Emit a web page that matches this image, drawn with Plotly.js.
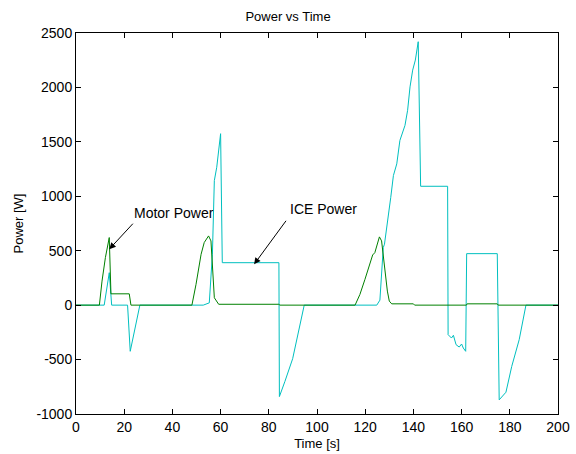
<!DOCTYPE html>
<html>
<head>
<meta charset="utf-8">
<script src="https://cdn.plot.ly/plotly-3.0.1.min.js"></script>
<style>html,body{margin:0;padding:0;background:#fff}#chart{width:576px;height:454px}</style>
</head>
<body>
<div id="chart"></div>
<script>
// ICE power (cyan)
var iceTime = [0, 11.7, 13.8, 14.8, 21.4, 22.5, 26.5, 52.8, 55.3, 56.6, 57.4, 58.4, 60.0, 60.7, 84.2, 84.4, 86.7, 89.9, 94.7,
  124.8, 126.1, 127.5, 128, 129.6, 130.6, 131.7, 133.1, 134.4, 136.5, 137.6, 138.6, 139.7, 140.8, 142, 143,
  154.2, 154.4, 155.8, 156.6, 157.7, 159, 160, 160.7, 161.7, 162.1, 174.8, 175.6, 178.4, 180.8, 183.9, 186.7, 200];
var icePower = [0, 0, 298, 0, 0, -424, 0, 0, 21, 468, 1144, 1267, 1575, 390, 390, -840, -700, -492, 0,
  0, 46, 529, 560, 806, 990, 1190, 1298, 1513, 1651, 1790, 2005, 2159, 2251, 2420, 1092,
  1092, -271, -302, -277, -363, -385, -357, -394, -424, 473, 473, -870, -800, -563, -317, 0, 0];

// Motor power (green)
var motorTime = [0, 9.7, 10.8, 12.2, 13.8, 14.5, 22.1, 22.8, 48.1, 49.8, 51.9, 53.2, 55.0, 56.0, 57.4, 59.2, 84.2, 84.6,
  115.8, 117.8, 119.9, 122, 123.1, 124, 125, 125.9, 126.8, 127.5, 128.2, 129.2, 130, 131, 140, 140.5, 162, 162.3, 174.8, 175.2, 200];
var motorPower = [0, 0, 221, 437, 621, 104, 104, 0, 0, 191, 467, 575, 636, 590, 68, 8, 8, 0,
  0, 98, 237, 375, 461, 482, 560, 627, 590, 437, 314, 129, 37, 12, 12, 0, 0, 12, 12, 0, 0];

var xTicks = [0, 20, 40, 60, 80, 100, 120, 140, 160, 180, 200];
var yTicks = [-1000, -500, 0, 500, 1000, 1500, 2000, 2500];

var font = {family: 'Liberation Sans, Arial, sans-serif', size: 13, color: '#000'};
var bigFont = {family: 'Liberation Sans, Arial, sans-serif', size: 14, color: '#000'};

var traces = [
  {x: iceTime, y: icePower, mode: 'lines', name: 'ICE Power', line: {color: 'rgb(0,191,191)', width: 1}},
  {x: motorTime, y: motorPower, mode: 'lines', name: 'Motor Power', line: {color: 'rgb(0,128,0)', width: 1}}
];

var axisCommon = {
  showgrid: false, zeroline: false, showline: true, linecolor: '#000', linewidth: 1,
  mirror: 'allticks', ticks: 'inside', ticklen: 5, tickcolor: '#000', tickfont: bigFont
};

var layout = {
  width: 576, height: 454,
  margin: {l: 76, r: 18, t: 33, b: 40},
  paper_bgcolor: '#fff', plot_bgcolor: '#fff',
  showlegend: false,
  font: font,
  title: {text: 'Power vs Time', font: font, x: 0.5, xanchor: 'center', y: 1 - 16/454, yanchor: 'middle'},
  xaxis: Object.assign({}, axisCommon, {range: [0, 200], tickvals: xTicks, ticktext: xTicks.map(String),
    title: {text: 'Time [s]', font: font, standoff: 5}}),
  yaxis: Object.assign({}, axisCommon, {range: [-1000, 2500], tickvals: yTicks, ticktext: yTicks.map(String),
    title: {text: 'Power [W]', font: font, standoff: 9}}),
  annotations: [
    {x: 13.8, y: 514, xref: 'x', yref: 'y', text: '', showarrow: true, arrowhead: 2, arrowsize: 1.3, arrowwidth: 1,
     arrowcolor: '#000', ax: 25, ay: -27},
    {x: 23.4, y: 843, xref: 'x', yref: 'y', text: 'Motor Power', showarrow: false, xanchor: 'left', yanchor: 'middle', font: bigFont},
    {x: 73.9, y: 375, xref: 'x', yref: 'y', text: '', showarrow: true, arrowhead: 2, arrowsize: 1.3, arrowwidth: 1,
     arrowcolor: '#000', ax: 33, ay: -45},
    {x: 88.0, y: 880, xref: 'x', yref: 'y', text: 'ICE Power', showarrow: false, xanchor: 'left', yanchor: 'middle', font: bigFont}
  ]
};

Plotly.newPlot('chart', traces, layout, {staticPlot: true, displayModeBar: false});
</script>
</body>
</html>
